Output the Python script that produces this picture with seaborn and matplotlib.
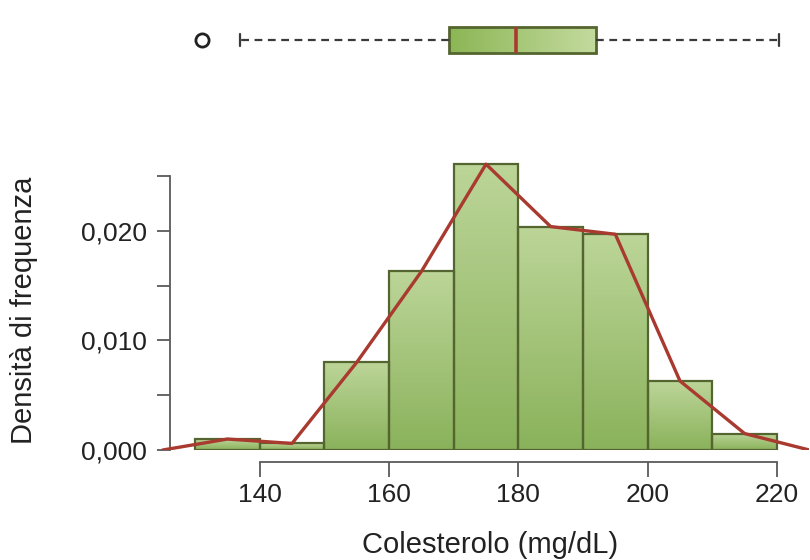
import matplotlib
matplotlib.use('Agg')
import matplotlib.pyplot as plt
import numpy as np
import seaborn as sns
from matplotlib.colors import LinearSegmentedColormap

# classi di colesterolo (mg/dL) e densità
bordi_classi = [130, 140, 150, 160, 170, 180, 190, 200, 210, 220]
densita = [0.0010, 0.0006, 0.0080, 0.0163, 0.0261, 0.0204, 0.0197, 0.0063, 0.0015]

# riassunto del boxplot (stesse unità dell'asse x)
box_valore_anomalo = [131.1]
box_baffo_basso = 137.0
box_q1 = 169.3
box_mediana = 179.6
box_q3 = 192.0
box_baffo_alto = 220.3

tick_x = [140, 160, 180, 200, 220]
tick_y = [0.000, 0.005, 0.010, 0.015, 0.020, 0.025]
etichette_y = ['0,000', '', '0,010', '', '0,020', '']

sns.set_theme(style='white')
plt.rcParams['font.family'] = ['Liberation Sans', 'DejaVu Sans']

verde_bordo = '#55652f'
rosso = '#a93a30'
grigio = '#5a5a5a'

fig = plt.figure(figsize=(8.1, 5.6), dpi=100)
W, H = 810, 560
x_min, x_max = 124.3, 225.0
ax = fig.add_axes([158.2 / W, 1 - 450 / H, (809.3 - 158.2) / W, (450 - 156.5) / H])
ax_box = fig.add_axes([158.2 / W, 1 - 80 / H, (809.3 - 158.2) / W, 80 / H])

# istogramma
mezzi = [(a + b) / 2 for a, b in zip(bordi_classi[:-1], bordi_classi[1:])]
sns.histplot(x=mezzi, weights=densita, bins=bordi_classi, ax=ax,
             color='#a3c477', edgecolor=verde_bordo, linewidth=1.6, alpha=1)

cmap_barre = LinearSegmentedColormap.from_list('barre', ['#8ab25b', '#bcd598'])
grad = np.linspace(0, 1, 100).reshape(-1, 1)
for p in list(ax.patches):
    x0, y0 = p.get_x(), p.get_y()
    w, h = p.get_width(), p.get_height()
    img = ax.imshow(grad, extent=[x0, x0 + w, y0, y0 + h], origin='lower',
                    aspect='auto', cmap=cmap_barre, zorder=1)
    img.set_clip_path(p)
    p.set_facecolor('none')
    p.set_zorder(2)

# poligono di frequenza
poli_x = [bordi_classi[0] - 5] + mezzi + [bordi_classi[-1] + 5]
poli_y = [0] + densita + [0]
sns.lineplot(x=poli_x, y=poli_y, ax=ax, color=rosso, linewidth=2.4, zorder=3)

ax.set_xlim(x_min, x_max)
ax.set_ylim(0, 0.0268)
ax.set_xticks(tick_x)
ax.set_xticklabels([str(t) for t in tick_x])
ax.set_yticks(tick_y)
ax.set_yticklabels(etichette_y)
for s in ['top', 'right']:
    ax.spines[s].set_visible(False)
ax.spines['left'].set_position(('data', 126.1))
ax.spines['left'].set_bounds(0, 0.025)
ax.spines['bottom'].set_position(('outward', 8.6))
ax.spines['bottom'].set_bounds(140, 220)
for s in ['left', 'bottom']:
    ax.spines[s].set_color(grigio)
    ax.spines[s].set_linewidth(1.3)
ax.tick_params(axis='x', direction='out', length=11, width=1.3, color=grigio,
               pad=4, labelsize=19, labelcolor='#222222', bottom=True)
ax.tick_params(axis='y', direction='out', length=9.4, width=1.3, color=grigio,
               pad=7, labelsize=19, labelcolor='#222222', left=True)
ax.set_xlabel('Colesterolo (mg/dL)', fontsize=21, color='#222222')
ax.xaxis.set_label_coords((490 - 158.2) / 651.1, (450 - 545) / 293.5)
ax.xaxis.label.set_va('center')
ax.set_ylabel('Densità di frequenza', fontsize=21, color='#222222')
ax.yaxis.set_label_coords((24 - 158.2) / 651.1, (450 - 310) / 293.5)
ax.yaxis.label.set_va('center')

# boxplot
stats = [dict(med=box_mediana, q1=box_q1, q3=box_q3, whislo=box_baffo_basso,
              whishi=box_baffo_alto, fliers=box_valore_anomalo)]
bp = ax_box.bxp(stats, positions=[0], widths=0.65, capwidths=0.3,
                orientation='horizontal', patch_artist=True,
                boxprops=dict(facecolor='none', edgecolor=verde_bordo, linewidth=2, zorder=2),
                medianprops=dict(color=rosso, linewidth=2.6, zorder=3),
                whiskerprops=dict(color='#3a3a3a', linewidth=1.6, linestyle=(0, (3.5, 2.5))),
                capprops=dict(color='#3a3a3a', linewidth=1.6),
                flierprops=dict(marker='o', markerfacecolor='none', markeredgecolor='#222222',
                                markersize=9.5, markeredgewidth=2))
cmap_box = LinearSegmentedColormap.from_list('box', ['#8cb655', '#c3da9e'])
scatola = bp['boxes'][0]
img = ax_box.imshow(np.linspace(0, 1, 100).reshape(1, -1),
                    extent=[box_q1, box_q3, -0.325, 0.325], aspect='auto',
                    cmap=cmap_box, zorder=1)
img.set_clip_path(scatola)
ax_box.set_xlim(x_min, x_max)
ax_box.set_ylim(-1, 1)
ax_box.axis('off')

fig.savefig('out.png', dpi=100)
